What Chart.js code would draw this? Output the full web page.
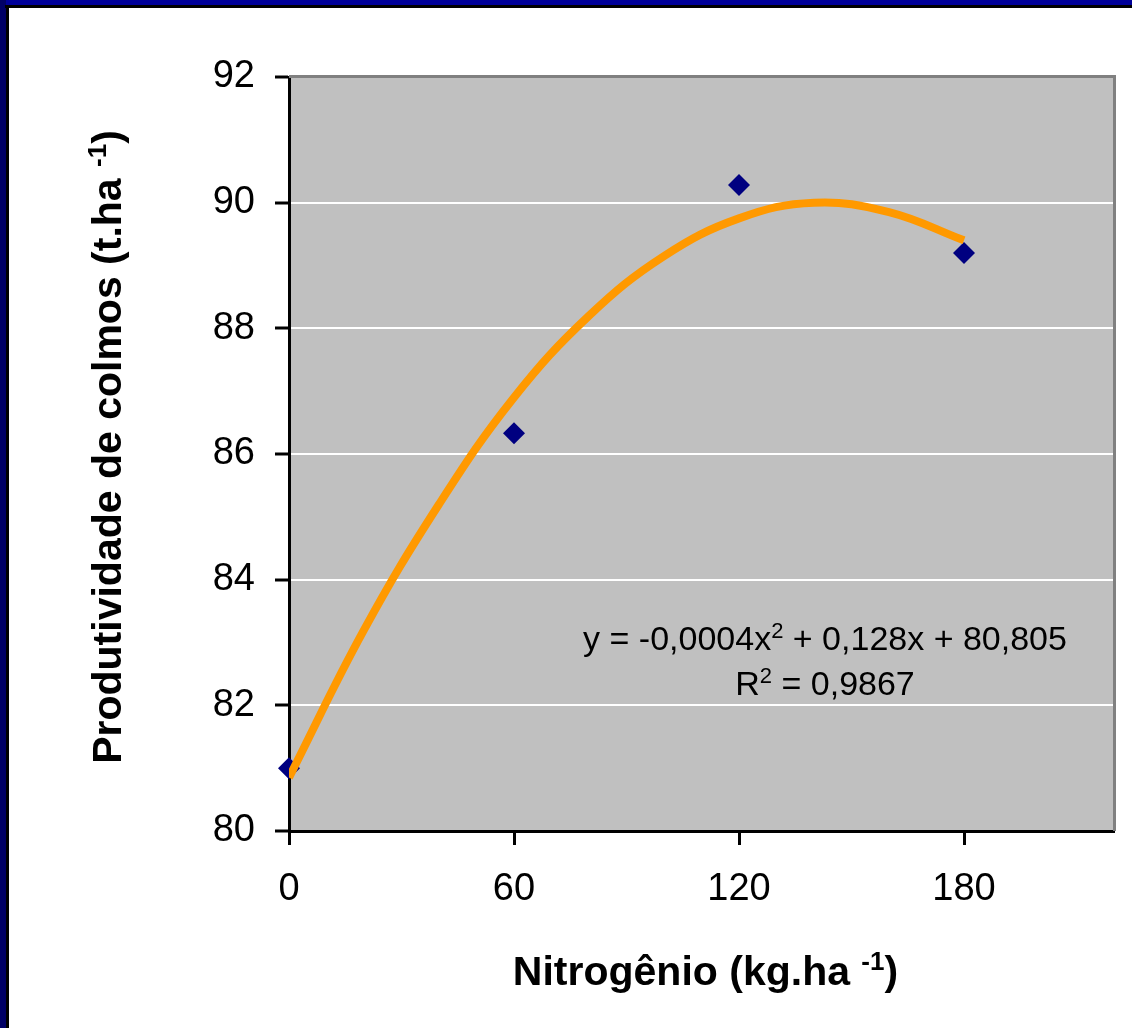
<!DOCTYPE html>
<html>
<head>
<meta charset="utf-8">
<script src="https://cdn.jsdelivr.net/npm/chart.js@4"></script>
<style>
  html, body { margin: 0; padding: 0; background: #fff; }
  canvas { display: block; }
</style>
</head>
<body>
<canvas id="grafico" width="1132" height="1028"></canvas>
<script>
// dados
const nitrogenio = [0, 60, 120, 180];
const produtividade = [81.0, 86.33, 90.28, 89.2];
// linha de tendencia
const tendX = [0, 20, 40, 60, 80, 100, 120, 140, 160, 180];
const tendY = [80.85, 83.2, 85.2, 86.9, 88.2, 89.15, 89.75, 90.0, 89.85, 89.4];

const xTicks = [0, 60, 120, 180];
const yTicks = [80, 82, 84, 86, 88, 90, 92];

const tituloX = [{ t: 'Nitrogênio (kg.ha ' }, { t: '-1', sup: true }, { t: ')' }];
const tituloY = [{ t: 'Produtividade de colmos (t.ha ' }, { t: '-1', sup: true }, { t: ')' }];
const equacao = [{ t: 'y = -0,0004x' }, { t: '2', sup: true }, { t: ' + 0,128x + 80,805' }];
const rQuadrado = [{ t: 'R' }, { t: '2', sup: true }, { t: ' = 0,9867' }];

const FONTE = '"Liberation Sans", Arial, sans-serif';

function textoRico(ctx, partes, x, y, size, bold) {
  const peso = bold ? 'bold ' : '';
  const supSize = Math.round(size * 0.64);
  let largura = 0;
  partes.forEach(p => {
    ctx.font = peso + (p.sup ? supSize : size) + 'px ' + FONTE;
    p.w = ctx.measureText(p.t).width;
    largura += p.w;
  });
  let cx = x - largura / 2;
  ctx.textAlign = 'left';
  ctx.textBaseline = 'alphabetic';
  partes.forEach(p => {
    ctx.font = peso + (p.sup ? supSize : size) + 'px ' + FONTE;
    ctx.fillText(p.t, cx, p.sup ? y - size * 0.36 : y);
    cx += p.w;
  });
}

const fundo = {
  id: 'fundo',
  beforeDraw(chart) {
    const { ctx, chartArea: a } = chart;
    ctx.save();
    ctx.fillStyle = '#C0C0C0';
    ctx.fillRect(a.left, a.top, a.right - a.left, a.bottom - a.top);
    ctx.restore();
  },
  beforeDatasetsDraw(chart) {
    const { ctx, chartArea: a } = chart;
    ctx.save();
    ctx.fillStyle = '#808080';
    ctx.fillRect(a.left, a.top - 2, a.right - a.left + 2, 3);
    ctx.fillRect(a.right - 1, a.top - 2, 3, a.bottom - a.top + 2);
    ctx.restore();
  },
  afterDraw(chart) {
    const { ctx, chartArea: a } = chart;
    ctx.save();
    ctx.fillStyle = '#000';
    textoRico(ctx, equacao, 825, 650, 34, false);
    textoRico(ctx, rQuadrado, 825, 695, 34, false);
    textoRico(ctx, tituloX, (a.left + a.right) / 2 + 4, 985, 41, true);
    ctx.translate(121, 447);
    ctx.rotate(-Math.PI / 2);
    textoRico(ctx, tituloY, 0, 0, 41, true);
    ctx.restore();

    // moldura da figura
    ctx.save();
    ctx.fillStyle = '#000099';
    ctx.fillRect(0, 0, chart.width, 5);
    ctx.fillStyle = '#000066';
    ctx.fillRect(0, 0, 6, chart.height);
    ctx.fillStyle = '#000';
    ctx.fillRect(5, 5, chart.width - 5, 3);
    ctx.fillRect(6, 5, 3, chart.height - 5);
    ctx.restore();
  }
};

new Chart(document.getElementById('grafico'), {
  type: 'scatter',
  data: {
    datasets: [
      {
        type: 'line',
        label: 'tendencia',
        data: tendX.map((x, i) => ({ x: x, y: tendY[i] })),
        borderColor: '#FF9900',
        borderWidth: 8,
        pointRadius: 0,
        tension: 0.4,
        fill: false,
        order: 0
      },
      {
        label: 'Produtividade',
        data: nitrogenio.map((x, i) => ({ x: x, y: produtividade[i] })),
        pointStyle: 'rectRot',
        pointRadius: 11,
        backgroundColor: '#000080',
        borderColor: '#000080',
        borderWidth: 0,
        clip: false,
        order: 1
      }
    ]
  },
  options: {
    responsive: false,
    animation: false,
    devicePixelRatio: 1,
    layout: { padding: { top: 77, right: 18, left: 0, bottom: 0 } },
    plugins: {
      legend: { display: false },
      tooltip: { enabled: false }
    },
    scales: {
      x: {
        type: 'linear',
        min: 0,
        max: 220,
        afterFit: s => { s.height = 197; },
        afterBuildTicks: s => { s.ticks = xTicks.map(v => ({ value: v })); },
        grid: {
          drawOnChartArea: false,
          drawTicks: true,
          tickLength: 14,
          tickWidth: 3,
          tickColor: '#000'
        },
        border: { color: '#000', width: 3 },
        ticks: {
          color: '#000',
          font: { family: FONTE, size: 38 },
          padding: 22,
          maxRotation: 0,
          autoSkip: false
        }
      },
      y: {
        min: 80,
        max: 92,
        afterFit: s => { s.width = 289; },
        afterBuildTicks: s => { s.ticks = yTicks.map(v => ({ value: v })); },
        grid: {
          color: c => (c.tick && (c.tick.value === 80 || c.tick.value === 92)) ? 'rgba(0,0,0,0)' : '#FFFFFF',
          lineWidth: 2,
          drawTicks: true,
          tickLength: 14,
          tickWidth: 3,
          tickColor: '#000'
        },
        border: { color: '#000', width: 3 },
        ticks: {
          color: '#000',
          font: { family: FONTE, size: 38 },
          padding: 20,
          autoSkip: false
        }
      }
    }
  },
  plugins: [fundo]
});
</script>
</body>
</html>
